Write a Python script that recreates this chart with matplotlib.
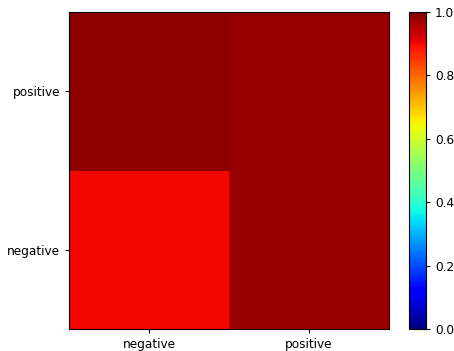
import matplotlib
matplotlib.use("Agg")
import matplotlib.pyplot as plt
import numpy as np

# ---------------------------------------------------------------------------
# Data
# ---------------------------------------------------------------------------

labels = ["negative", "positive"]
row_negative = [0.900, 0.979]
row_positive = [0.987, 0.977]

matrix = np.array([row_negative, row_positive])

# ---------------------------------------------------------------------------
# Plot
# ---------------------------------------------------------------------------

plt.rcParams["font.size"] = 8.7
plt.rcParams["xtick.major.size"] = 3
plt.rcParams["ytick.major.size"] = 3

fig = plt.figure(figsize=(4.54, 3.51), dpi=100)
ax = fig.add_axes([69 / 454, 22 / 351, 320 / 454, 317 / 351])
cax = fig.add_axes([409 / 454, 22 / 351, 17 / 454, 317 / 351])

im = ax.imshow(matrix, cmap="jet", vmin=0, vmax=1, origin="lower", aspect="auto")
ax.set_xticks(range(len(labels)))
ax.set_xticklabels(labels)
ax.set_yticks(range(len(labels)))
ax.set_yticklabels(labels)

fig.colorbar(im, cax=cax)

fig.savefig("out.png", dpi=100)
